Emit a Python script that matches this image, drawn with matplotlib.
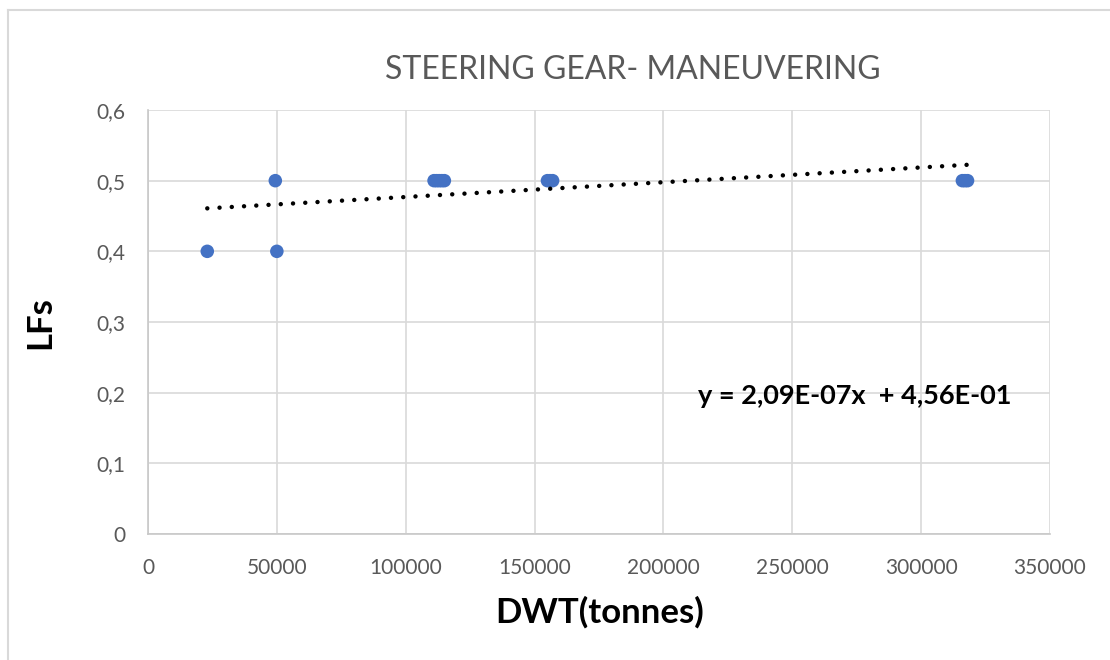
import matplotlib
matplotlib.use("Agg")
import matplotlib.pyplot as plt
from matplotlib.lines import Line2D
import numpy as np

plt.rcParams['font.family'] = ['Lato', 'DejaVu Sans']

# Data
dwt = [23000, 49400, 50000, 111000, 112000, 113000, 114000, 115000,
       155000, 156000, 157000, 316000, 317000, 318000]
lfs = [0.4, 0.5, 0.4, 0.5, 0.5, 0.5, 0.5, 0.5,
       0.5, 0.5, 0.5, 0.5, 0.5, 0.5]
slope = 2.09e-07
intercept = 4.56e-01
x_ticks = [0, 50000, 100000, 150000, 200000, 250000, 300000, 350000]
y_ticks = [0, 0.1, 0.2, 0.3, 0.4, 0.5, 0.6]
y_tick_labels = ['0', '0,1', '0,2', '0,3', '0,4', '0,5', '0,6']
title = "STEERING GEAR- MANEUVERING"
equation = "y = 2,09E-07x  + 4,56E-01"

fig = plt.figure(figsize=(11.1, 6.6), dpi=100)
ax = fig.add_axes([148/1110, 1-534/660, (1050-148)/1110, (534-110)/660])

ax.set_xlim(0, 350000)
ax.set_ylim(0, 0.6)
ax.set_xticks(x_ticks)
ax.set_xticklabels([str(v) for v in x_ticks])
ax.set_yticks(y_ticks)
ax.set_yticklabels(y_tick_labels)
ax.grid(True, color='#d9d9d9', linewidth=1.2)
ax.set_axisbelow(True)
for s in ['top', 'right']:
    ax.spines[s].set_visible(False)
for s in ['left', 'bottom']:
    ax.spines[s].set_color('#c8c8c8')
    ax.spines[s].set_linewidth(1.2)
ax.tick_params(length=0, labelsize=15, labelcolor='#595959', pad=16)
ax.tick_params(axis='x', pad=17)

ax.scatter(dwt, lfs, s=95, color='#4472C4', zorder=3, edgecolors='none')

xt = np.array([min(dwt), max(dwt)])
ax.plot(xt, slope * xt + intercept, color='black', linewidth=3.2,
        linestyle=(0, (0.01, 2.75)), dash_capstyle='round', zorder=4)

fig.text(855/1110, 1-396/660, equation, fontsize=19.5, fontweight='bold',
         ha='center', va='center')

fig.text(633/1110, 1-70/660, title, fontsize=23, color='#595959',
         ha='center', va='center')
fig.text(40/1110, 1-323/660, "LFs", fontsize=25, fontweight='bold',
         rotation=90, ha='center', va='center')
fig.text(600/1110, 1-612/660, "DWT(tonnes)", fontsize=25, fontweight='bold',
         ha='center', va='center')

# outer chart frame (left and top edges visible)
fig.add_artist(Line2D([8/1110, 8/1110], [0, 1-10/660], transform=fig.transFigure,
                      color='#d9d9d9', linewidth=1.5))
fig.add_artist(Line2D([8/1110, 1], [1-10/660, 1-10/660], transform=fig.transFigure,
                      color='#d9d9d9', linewidth=1.5))

fig.savefig("out.png", dpi=100)
